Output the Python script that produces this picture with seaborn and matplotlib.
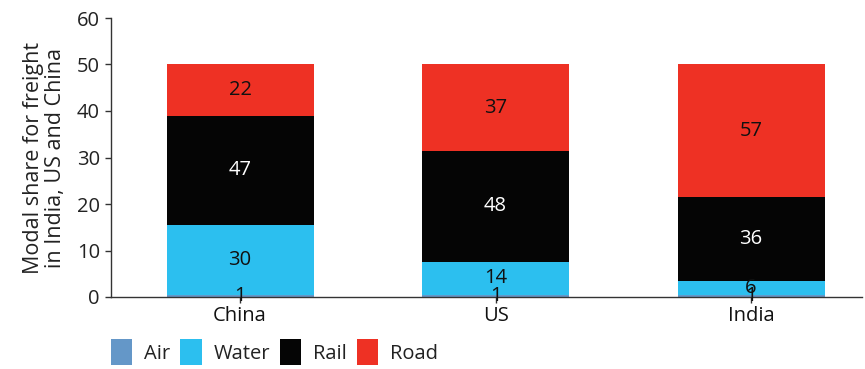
import numpy as np
import pandas as pd
import matplotlib
matplotlib.use("Agg")
import matplotlib.pyplot as plt
import seaborn as sns
from matplotlib.patches import Patch

countries = ["China", "US", "India"]
modes = ["Air", "Water", "Rail", "Road"]
air = [1, 1, 1]
water = [30, 14, 6]
rail = [47, 48, 36]
road = [22, 37, 57]
colors = {"Air": "#6497C8", "Water": "#2CBFEF", "Rail": "#050505", "Road": "#EE3124"}
text_colors = {"Air": "#111111", "Water": "#111111", "Rail": "#ffffff", "Road": "#111111"}
y_ticks = [0, 10, 20, 30, 40, 50, 60]
scale = 0.5  # shares drawn on the 0-50 axis

sns.set_theme(style="white")
plt.rcParams["font.family"] = ["Open Sans", "DejaVu Sans"]

shares = pd.DataFrame({"Air": air, "Water": water, "Rail": rail, "Road": road},
                      index=countries)
heights = shares * scale
tops = heights.cumsum(axis=1)
bottoms = tops - heights

fig = plt.figure(figsize=(8.65, 3.69), dpi=100)
ax = fig.add_axes([111 / 865, 1 - 297 / 369, (862 - 111) / 865, (297 - 18) / 369])

# overlay cumulative bars from the top segment down
for mode in reversed(modes):
    df = pd.DataFrame({"country": countries, "top": tops[mode].values})
    sns.barplot(data=df, x="country", y="top", color=colors[mode], ax=ax,
                width=0.575, linewidth=0, saturation=1, order=countries)

for i, c in enumerate(countries):
    for mode in modes:
        yc = bottoms.loc[c, mode] + heights.loc[c, mode] / 2
        ax.text(i, yc, f"{shares.loc[c, mode]}", ha="center", va="center",
                fontsize=14.5, color=text_colors[mode])

ax.set_xlim(-0.505, 2.434)
ax.set_ylim(0, 60)
ax.set_yticks(y_ticks)
ax.set_xlabel("")
ax.set_ylabel("Modal share for freight\nin India, US and China", fontsize=15.5,
              color="#222222", linespacing=1.05, labelpad=8)
for s in ["top", "right"]:
    ax.spines[s].set_visible(False)
for s in ["left", "bottom"]:
    ax.spines[s].set_color("#333333")
    ax.spines[s].set_linewidth(1.0)
ax.tick_params(axis="y", direction="out", length=4, width=1, color="#333333",
               labelsize=14.5, labelcolor="#222222", left=True, pad=4)
ax.tick_params(axis="x", direction="inout", length=9, width=1, color="#333333",
               labelsize=14.5, labelcolor="#111111", bottom=True, pad=2)

handles = [Patch(facecolor=colors[m], edgecolor="none", label=m) for m in modes]
fig.legend(handles=handles, loc="upper left", bbox_to_anchor=(111 / 865, 1 - 339 / 369),
           ncol=4, frameon=False, fontsize=14.5, handlelength=1.05, handleheight=1.6,
           handletextpad=0.6, columnspacing=0.5, borderaxespad=0, borderpad=0,
           labelcolor="#222222")

fig.savefig("out.png", dpi=100)
